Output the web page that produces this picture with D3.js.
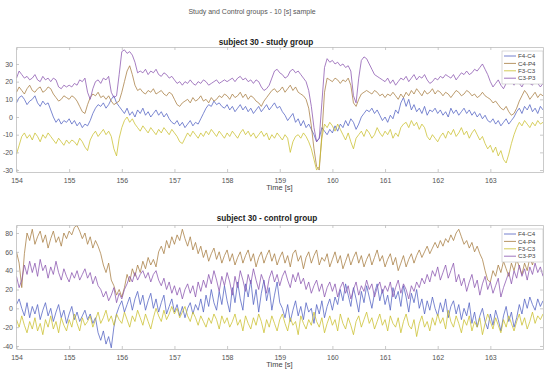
<!DOCTYPE html>
<html>
<head>
<meta charset="utf-8">
<script src="https://cdn.jsdelivr.net/npm/d3@7"></script>
<style>
  body { margin: 0; background: #fff; }
  svg { font-family: "Liberation Sans", Arial, sans-serif; }
</style>
</head>
<body>
<div id="chart"></div>
<script>
// sampling of the traces: start time and step in seconds
const tStart = 154;
const tStep = 0.05;
const xTicks = [154, 155, 156, 157, 158, 159, 160, 161, 162, 163];
const studyTicks = [-30, -20, -10, 0, 10, 20, 30];
const controlTicks = [-40, -20, 0, 20, 40, 60, 80];
const channels = ['F4-C4', 'C4-P4', 'F3-C3', 'C3-P3'];
const channelColors = ['#5060c2', '#a57b3f', '#c9bf2c', '#8853ad'];

// study group, subject 30
const studyF4C4 = [
  8, 11, 12, 10, 7, 9, 10, 12, 8, 6, 9, 7, 8, 4, 0, -3, -1, -4, -2, -3,
  -1, -4, -2, -5, -3, -6, -4, -5, -2, 2, 5, 7, 6, 8, 5, 7, 10, 12, 8, 6,
  4, 2, 5, 1, 3, 0, 4, 2, 5, 1, 3, 0, 2, 4, 1, 3, 0, 2, -1, -3,
  -4, -2, -5, -3, -6, -4, -2, -5, -3, -4, -1, 2, 5, 7, 6, 9, 7, 8, 6, 5,
  7, 4, 6, 3, 5, 7, 4, 6, 3, 5, 2, 4, 6, 3, 5, 7, 4, 6, 8, 5,
  6, 3, 1, -2, 0, 2, -3, -1, -5, -2, -6, -4, -7, -10, -14, -12, -6, -8, -10, -7,
  -9, -5, -8, -4, -6, -2, -5, -1, -3, -7, -4, 0, 2, 4, 3, 5, 2, 4, 1, -2,
  0, -3, 1, -1, 4, 2, 8, 11, 6, 10, 4, 7, 3, 5, 2, 6, 1, 4, 3, 5,
  2, 4, 1, 3, 0, 5, 2, 4, 1, 3, 5, 2, 4, 1, 3, 0, 2, -1, 1, -2,
  -3, -1, -4, -2, -5, -3, -1, -4, -2, 0, 3, 5, 2, 6, 4, 7, 3, 5, 2, 6, 4
];
const studyC4P4 = [
  14, 17, 15, 13, 16, 18, 15, 14, 16, 17, 14, 15, 17, 16, 13, 11, 9, 10, 12, 11,
  10, 12, 11, 9, 6, 3, 2, 7, 11, 13, 12, 14, 11, 12, 10, 12, 9, 7, 8, 9,
  14, 20, 26, 29, 24, 18, 15, 16, 14, 13, 15, 14, 16, 13, 14, 15, 13, 12, 14, 13,
  10, 7, 6, 8, 9, 10, 8, 11, 9, 10, 12, 9, 10, 8, 11, 9, 10, 12, 11, 13,
  12, 10, 13, 11, 12, 14, 11, 13, 10, 12, 11, 9, 8, 6, 9, 11, 13, 15, 16, 14,
  15, 17, 14, 16, 18, 15, 17, 14, 13, 12, 10, 5, -5, -18, -28, -30, -10, 14, 22, 21,
  20, 22, 21, 19, 21, 20, 22, 18, 8, 6, 10, 13, 14, 15, 14, 13, 15, 14, 12, 13,
  11, 13, 12, 14, 12, 10, 13, 11, 14, 12, 15, 13, 16, 14, 12, 15, 13, 14, 16, 13,
  15, 14, 12, 14, 13, 11, 13, 15, 14, 12, 13, 15, 14, 12, 13, 11, 12, 14, 12, 11,
  10, 8, 9, 7, 5, 4, 6, 3, 1, 2, 5, 9, 12, 15, 13, 10, 12, 14, 11, 13, 12
];
const studyF3C3 = [
  -21, -16, -11, -9, -12, -10, -13, -9, -11, -14, -10, -12, -9, -11, -13, -15, -12, -14, -16, -13,
  -15, -13, -14, -16, -12, -14, -17, -19, -13, -10, -8, -11, -9, -7, -10, -8, -11, -18, -22, -12,
  -6, -2, 0, -3, -1, -4, -6, -8, -5, -7, -9, -6, -8, -10, -7, -9, -6, -8, -10, -7,
  -9, -11, -14, -15, -12, -9, -11, -8, -10, -12, -9, -11, -8, -10, -7, -9, -11, -8, -10, -12,
  -9, -11, -8, -10, -12, -9, -7, -10, -8, -11, -9, -12, -10, -8, -11, -9, -13, -10, -12, -9,
  -11, -13, -10, -12, -20, -14, -11, -10, -12, -9, -11, -14, -18, -24, -30, -28, -12, -4, -6, -3,
  -5, -8, -4, -7, -10, -13, -9, -14, -18, -12, -10, -8, -11, -7, -9, -12, -10, -6, -9, -11,
  -8, -10, -7, -12, -9, -11, -6, -4, -3, -6, -2, -5, -3, -7, -4, -6, -11, -13, -10, -12,
  -14, -11, -9, -12, -8, -10, -7, -11, -9, -6, -10, -8, -12, -9, -7, -10, -13, -11, -15, -18,
  -16, -20, -17, -22, -19, -24, -26, -21, -15, -10, -6, -3, -5, -2, -4, -6, -3, -5, -2, -4, -3
];
const studyC3P3 = [
  22, 26, 24, 22, 23, 21, 22, 24, 21, 20, 23, 21, 22, 20, 22, 21, 17, 16, 18, 17,
  18, 17, 19, 18, 21, 20, 22, 14, 10, 16, 20, 21, 19, 22, 21, 23, 14, 11, 12, 24,
  37, 38, 36, 37, 35, 31, 25, 26, 25, 27, 24, 26, 25, 27, 24, 23, 25, 24, 22, 23,
  21, 19, 20, 18, 20, 19, 21, 19, 18, 20, 19, 21, 20, 18, 19, 20, 21, 19, 20, 21,
  20, 21, 22, 20, 22, 23, 21, 22, 20, 21, 19, 21, 20, 17, 15, 16, 18, 22, 26, 27,
  25, 24, 22, 23, 26, 27, 25, 26, 24, 22, 20, 15, 6, -6, -14, -12, 8, 28, 33, 31,
  32, 30, 31, 29, 30, 28, 29, 26, 12, 8, 22, 32, 34, 33, 30, 27, 24, 23, 22, 21,
  20, 22, 19, 21, 18, 20, 22, 21, 23, 20, 22, 24, 21, 23, 22, 24, 21, 19, 20, 22,
  21, 23, 22, 24, 23, 22, 24, 21, 23, 25, 24, 26, 24, 25, 27, 26, 28, 30, 27, 24,
  20, 17, 19, 21, 18, 16, 19, 22, 20, 18, 21, 19, 17, 20, 22, 19, 18, 21, 19, 17, 19
];

// control group, subject 30
const controlF4C4 = [
  4, 10, 0, -8, 6, -10, 2, -6, 4, -12, -2, 6, -8, 0, -14, -4, 4, -10, -2, -16,
  -6, 2, -12, -4, -14, -8, -2, -12, -6, -16, -10, -26, -34, -24, -38, -30, -42, -20, -6, 2,
  8, -4, 4, 12, -2, 10, 18, 4, 14, -2, 8, 16, 0, 10, -4, 6, 14, -6, 2, 10,
  -4, 4, -8, 2, -10, 0, 6, -6, 4, -2, 10, -4, 14, 2, 20, 6, -2, 18, 4, 24,
  8, -4, 22, 6, 28, 10, -2, 26, 12, 30, 4, 20, -4, 16, 30, 8, 22, -2, 14, 28,
  6, 0, -10, 4, -14, -2, 8, -8, 2, -12, 6, -4, 0, -16, 4, -6, 8, -10, 2, 10,
  -2, 12, 4, 20, 8, 26, 14, 2, 22, 10, -4, 18, 6, 24, 12, 0, 16, 26, 8, 20,
  4, 14, -2, 22, 10, 18, 2, 24, 12, -4, 16, 6, 20, 0, 10, -6, 8, -2, 12, 0,
  -8, 6, -4, 10, -10, 2, 8, -6, 4, -12, 0, -8, 6, -16, -4, -20, -8, 0, -14, -22,
  -6, -18, -2, -12, -24, -8, 2, -14, -4, -20, -10, 4, -6, 10, 0, 12, 4, -2, 10, 2, 8
];
const controlC4P4 = [
  60, 48, 22, 58, 80, 72, 84, 68, 76, 82, 70, 78, 64, 74, 82, 70, 76, 66, 80, 74,
  82, 78, 86, 88, 82, 74, 80, 68, 76, 64, 72, 66, 58, 46, 38, 48, 30, 24, 14, 20,
  12, 22, 36, 28, 42, 34, 46, 38, 50, 42, 54, 46, 52, 44, 60, 66, 58, 72, 64, 76,
  68, 78, 72, 84, 74, 66, 76, 62, 70, 58, 66, 54, 62, 50, 58, 64, 52, 60, 48, 56,
  62, 50, 58, 46, 54, 60, 48, 56, 62, 50, 58, 44, 54, 60, 48, 56, 62, 50, 58, 46,
  54, 60, 48, 56, 44, 58, 62, 50, 56, 42, 54, 60, 48, 56, 62, 46, 54, 50, 58, 44,
  52, 60, 48, 56, 42, 50, 58, 46, 54, 60, 48, 56, 44, 52, 58, 46, 54, 62, 50, 56,
  44, 52, 58, 46, 54, 40, 48, 56, 44, 52, 58, 48, 56, 62, 54, 60, 66, 58, 64, 70,
  64, 72, 66, 74, 70, 78, 72, 80, 84, 76, 68, 72, 64, 70, 60, 66, 58, 52, 40, 30,
  28, 40, 34, 46, 38, 50, 42, 34, 48, 40, 52, 44, 36, 48, 40, 54, 46, 58, 52, 64, 60
];
const controlF3C3 = [
  -12, -20, -8, -18, -26, -14, -22, -10, -24, -16, -28, -12, -20, -8, -22, -14, -26, -10, -18, -24,
  -12, -20, -6, -16, -24, -10, -18, -14, -8, -20, -12, -4, -16, -10, -2, -14, -8, -18, -6, -12,
  -16, -4, -12, -20, -8, -14, -2, -10, -18, -6, -14, -22, -10, 0, -8, -14, -2, -12, -6, 2,
  -6, 0, -10, -4, 2, -8, -14, -4, -10, -18, -8, -14, -20, -10, -16, -6, -12, -22, -8, -16,
  -10, -20, -14, -6, -18, -12, -24, -8, -16, -22, -10, -18, -6, -14, -26, -12, -20, -8, -16, -24,
  -12, -6, -16, -24, -10, -18, -14, -28, -8, -16, -22, -12, -18, -4, -14, -20, -10, -26, -16, -8,
  -18, -12, -24, -6, -16, -22, -10, -18, -28, -14, -8, -20, -12, -4, -16, -10, -22, -14, -6, -18,
  -12, -24, -8, -16, -20, -10, -26, -14, -6, -18, -22, -12, -30, -16, -8, -20, -14, -24, -10, -18,
  -6, -16, -10, -22, -2, -14, -20, -8, -16, -26, -12, -18, -8, -24, -14, -20, -10, -28, -16, -6,
  -14, -22, -10, -18, -26, -12, -20, -8, -16, -24, -14, -6, -18, -10, -22, -14, -4, -16, -8, -12, -6
];
const controlC3P3 = [
  34, 22, 30, 46, 36, 50, 38, 48, 34, 52, 40, 46, 32, 44, 36, 50, 38, 30, 42, 34,
  28, 38, 32, 40, 30, 36, 42, 32, 38, 26, 34, 24, 20, 12, 18, 8, 14, 22, 6, 16,
  10, 20, 26, 34, 28, 38, 30, 36, 40, 32, 38, 28, 36, 40, 30, 24, 32, 20, 28, 16,
  24, 14, 22, 10, 20, 26, 16, 24, 12, 28, 18, 30, 22, 36, 26, 40, 30, 18, 34, 24,
  38, 28, 14, 34, 22, 40, 30, 18, 36, 26, 42, 30, 20, 36, 28, 16, 32, 40, 28, 36,
  24, 34, 40, 30, 22, 36, 28, 38, 26, 32, 20, 28, 16, 24, 30, 18, 26, 12, 22, 28,
  18, 26, 12, 22, 28, 16, 24, 10, 20, 28, 14, 24, 18, 30, 20, 26, 12, 22, 28, 16,
  24, 18, 28, 12, 22, 30, 16, 26, 20, 10, 24, 18, 28, 22, 32, 26, 36, 28, 40, 34,
  44, 30, 38, 46, 32, 40, 48, 28, 36, 24, 32, 18, 28, 36, 22, 30, 14, 26, 34, 20,
  28, 16, 24, 32, 12, 22, 30, 38, 26, 40, 32, 46, 34, 42, 30, 44, 36, 48, 38, 44, 34
];

const width = 550, height = 376;
const svg = d3.select('#chart').append('svg')
  .attr('width', width)
  .attr('height', height);

svg.append('text')
  .attr('x', 252).attr('y', 14)
  .attr('text-anchor', 'middle')
  .attr('font-size', 7)
  .attr('fill', '#555')
  .text('Study and Control groups - 10 [s] sample');

const panels = [
  { title: 'subject 30 - study group', top: 47, bottom: 172, titleX: 266, titleY: 45,
    domain: [-31.1, 39.6], ticks: studyTicks,
    series: [studyF4C4, studyC4P4, studyF3C3, studyC3P3] },
  { title: 'subject 30 - control group', top: 225, bottom: 349, titleX: 267, titleY: 221,
    domain: [-43.2, 88.5], ticks: controlTicks,
    series: [controlF4C4, controlC4P4, controlF3C3, controlC3P3] }
];

const left = 16, right = 543;
const x = d3.scaleLinear().domain([154, 164]).range([left + 0.5, right]);
// plain hyphen for negatives, like the source figure
const plainNum = d => String(d);

panels.forEach((p, pi) => {
  const y = d3.scaleLinear().domain(p.domain).range([p.bottom, p.top]);
  const g = svg.append('g');

  const clipId = 'clip' + pi;
  svg.append('clipPath').attr('id', clipId)
    .append('rect')
    .attr('x', left).attr('y', p.top)
    .attr('width', right - left).attr('height', p.bottom - p.top);

  const line = d3.line()
    .x((d, i) => x(tStart + i * tStep))
    .y(d => y(d));

  const lines = g.append('g').attr('clip-path', `url(#${clipId})`);
  p.series.forEach((s, si) => {
    lines.append('path')
      .datum(s)
      .attr('fill', 'none')
      .attr('stroke', channelColors[si])
      .attr('stroke-width', 0.75)
      .attr('stroke-linejoin', 'round')
      .attr('d', line);
  });

  // axes: ticks inward on all four sides, as in the source figure
  const axisColor = '#bdbdbd';
  const styleAxis = sel => {
    sel.select('.domain').attr('stroke', axisColor).attr('stroke-width', 0.8);
    sel.selectAll('.tick line').attr('stroke', axisColor).attr('stroke-width', 0.8);
    sel.selectAll('.tick text').attr('fill', '#555').attr('font-size', 7)
      .attr('font-family', '"Liberation Sans", Arial, sans-serif');
  };

  g.append('g')
    .attr('transform', `translate(0,${p.bottom})`)
    .call(d3.axisBottom(x).tickValues(xTicks).tickFormat(plainNum)
      .tickSizeInner(-3).tickSizeOuter(0).tickPadding(6))
    .call(styleAxis);

  g.append('g')
    .attr('transform', `translate(0,${p.top})`)
    .call(d3.axisTop(x).tickValues(xTicks).tickFormat('')
      .tickSizeInner(-3).tickSizeOuter(0))
    .call(styleAxis);

  g.append('g')
    .attr('transform', `translate(${left},0)`)
    .call(d3.axisLeft(y).tickValues(p.ticks).tickFormat(plainNum)
      .tickSizeInner(-3).tickSizeOuter(0).tickPadding(3))
    .call(styleAxis);

  g.append('g')
    .attr('transform', `translate(${right},0)`)
    .call(d3.axisRight(y).tickValues(p.ticks).tickFormat('')
      .tickSizeInner(-3).tickSizeOuter(0))
    .call(styleAxis);

  g.append('text')
    .attr('x', p.titleX).attr('y', p.titleY)
    .attr('text-anchor', 'middle')
    .attr('font-size', 8.2)
    .attr('font-weight', 'bold')
    .attr('fill', '#222')
    .text(p.title);

  g.append('text')
    .attr('x', (left + right) / 2).attr('y', p.bottom + 18)
    .attr('text-anchor', 'middle')
    .attr('font-size', 7.5)
    .attr('fill', '#444')
    .text('Time [s]');

  // legend
  const lx = 502, ly = p.top + 4, lw = 41, lh = 33;
  const leg = g.append('g');
  leg.append('rect')
    .attr('x', lx).attr('y', ly).attr('width', lw).attr('height', lh)
    .attr('fill', '#fff').attr('stroke', '#c8c8c8').attr('stroke-width', 0.7);
  channels.forEach((c, ci) => {
    const yy = ly + 5 + ci * 7.4;
    leg.append('line')
      .attr('x1', lx + 2).attr('x2', lx + 14)
      .attr('y1', yy).attr('y2', yy)
      .attr('stroke', channelColors[ci]).attr('stroke-width', 0.8);
    leg.append('text')
      .attr('x', lx + 16).attr('y', yy + 2.2)
      .attr('font-size', 6.2)
      .attr('fill', '#444')
      .text(c);
  });
});
</script>
</body>
</html>
